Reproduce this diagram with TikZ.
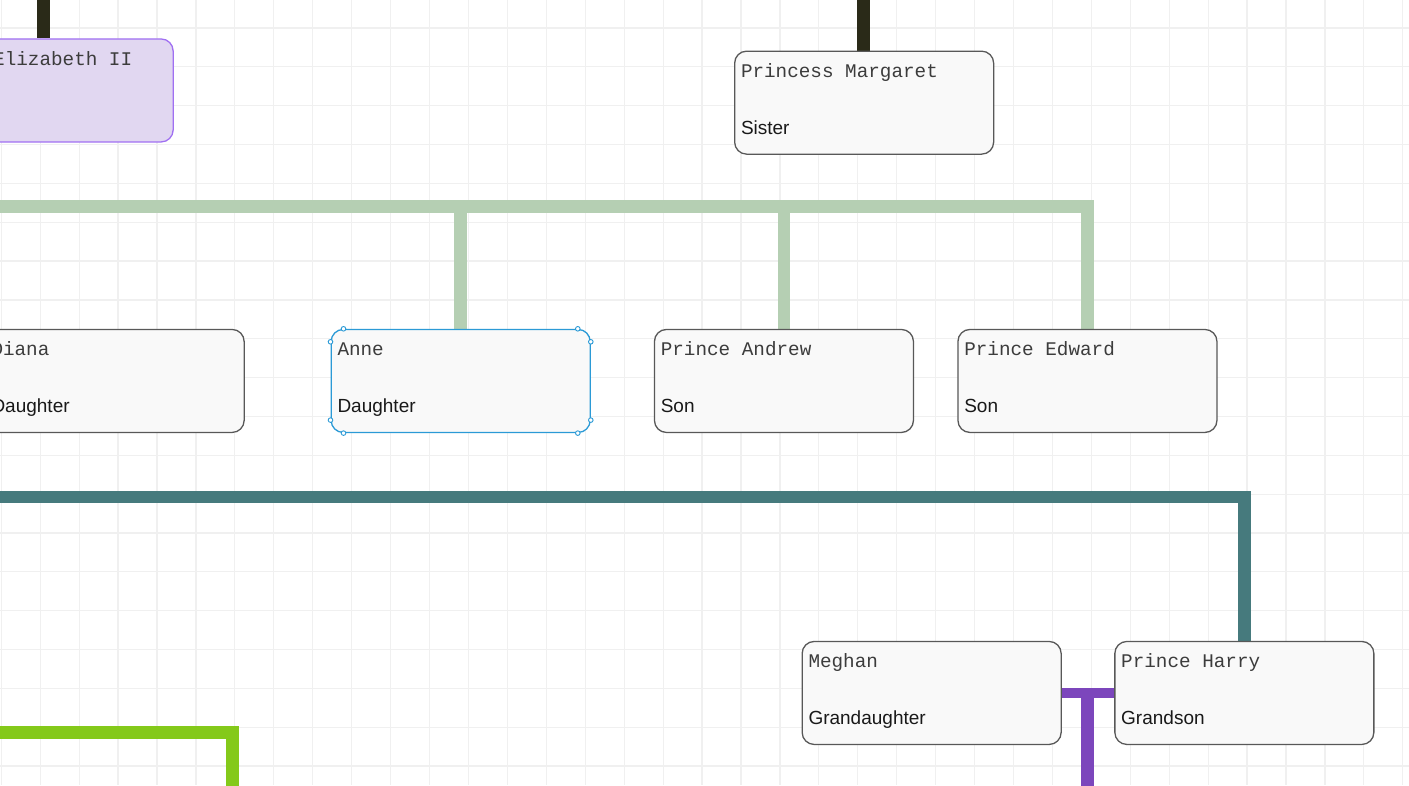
\documentclass[tikz,border=0pt]{standalone}
\usepackage{fontspec}
\usetikzlibrary{calc}
\setmainfont{Liberation Sans}
\newfontfamily\monofont{Liberation Mono}
\definecolor{gridc}{HTML}{F0F0F0}
\definecolor{boxfill}{HTML}{F9F9F9}
\definecolor{boxdraw}{HTML}{585858}
\definecolor{lavfill}{HTML}{E1D7F1}
\definecolor{lavdraw}{HTML}{A070F2}
\definecolor{darkline}{HTML}{2A2A18}
\definecolor{paleg}{HTML}{B5CFB3}
\definecolor{tealc}{HTML}{467A7D}
\definecolor{limec}{HTML}{84C91A}
\definecolor{purplec}{HTML}{7C46BC}
\definecolor{selc}{HTML}{2B9AD6}
\definecolor{monotext}{HTML}{3C3C3C}
\pgfdeclarelayer{gridlayer}
\pgfdeclarelayer{linelayer}
\pgfsetlayers{gridlayer,linelayer,main}
\tikzset{
  personbox/.style={draw=boxdraw, fill=boxfill, line width=1.3pt, rounded corners=12pt,
    minimum width=259pt, minimum height=103pt, anchor=north west, inner sep=0pt},
  titletext/.style={anchor=base west, inner sep=0pt, font=\monofont\fontsize{19.3}{22}\selectfont, text=monotext},
  roletext/.style={anchor=base west, inner sep=0pt, font=\fontsize{19}{22}\selectfont, text=black!90},
  conn/.style={line width=12.6pt, line join=miter},
  handle/.style={circle, draw=selc, fill=white, line width=0.9pt, inner sep=0pt, minimum size=4.6pt}
}
\begin{document}
\begin{tikzpicture}[x=1pt,y=-1pt]
\useasboundingbox (0,0) rectangle (1409,785);
\begin{pgfonlayer}{gridlayer}
\fill[white] (0,0) rectangle (1409,785);
\foreach \i in {0,...,37} {
  \draw[gridc, line width=1.2pt] ({1.3+\i*38.93},0) -- ({1.3+\i*38.93},785);
}
\foreach \j in {0,...,20} {
  \draw[gridc, line width=1.2pt] (0,{-10.8+\j*38.84}) -- (1409,{-10.8+\j*38.84});
}
\end{pgfonlayer}

% boxes
\node[personbox, draw=lavdraw, fill=lavfill, minimum width=188pt] (eliz) at (-15.5,38.3) {};
\node[personbox] (margaret) at (734,50.5) {};
\node[personbox] (diana) at (-15.5,328.8) {};
\node[personbox, draw=selc] (anne) at (330.5,328.8) {};
\node[personbox] (andrew) at (653.8,328.8) {};
\node[personbox] (edward) at (957.3,328.8) {};
\node[personbox] (meghan) at (801.5,640.8) {};
\node[personbox] (harry) at (1114.2,640.8) {};

% free ends of connectors
\coordinate (etop) at (43.7,-10);
\coordinate (mtop) at (863.7,-10);
\coordinate (gstart) at (-30,206.7);
\coordinate (tstart) at (-30,497);
\coordinate (lstart) at (-30,732.3);
\coordinate (lend) at (232.2,800);
\coordinate (pend) at (1087.4,800);

\begin{pgfonlayer}{linelayer}
\draw[conn, darkline] (etop) -- (etop |- eliz.north);
\draw[conn, darkline] (mtop) -- (mtop |- margaret.north);
\draw[conn, paleg] (gstart) -| (edward.north);
\draw[conn, paleg] (anne.north) -- (anne.north |- gstart);
\draw[conn, paleg] (andrew.north) -- (andrew.north |- gstart);
\draw[conn, tealc] (tstart) -| (harry.north);
\draw[conn, limec] (lstart) -| (lend);
\draw[purplec, line width=10pt] (meghan.east) -- (harry.west);
\draw[purplec, line width=13.3pt] (pend |- meghan.east) -- (pend);
\end{pgfonlayer}

% texts
\node[titletext] (elizt) at ([shift={(8.5,26.7)}]eliz.north west) {Elizabeth II};
\node[titletext] (margt) at ([shift={(6.8,26.7)}]margaret.north west) {Princess Margaret};
\node[roletext] (margr) at ([shift={(6.8,83.7)}]margaret.north west) {Sister};
\node[titletext] (dianat) at ([shift={(6.8,26.7)}]diana.north west) {Diana};
\node[roletext] (dianar) at ([shift={(6.8,83.7)}]diana.north west) {Daughter};
\node[titletext] (annet) at ([shift={(6.8,26.7)}]anne.north west) {Anne};
\node[roletext] (anner) at ([shift={(6.8,83.7)}]anne.north west) {Daughter};
\node[titletext] (andrewt) at ([shift={(6.8,26.7)}]andrew.north west) {Prince Andrew};
\node[roletext] (andrewr) at ([shift={(6.8,83.7)}]andrew.north west) {Son};
\node[titletext] (edwardt) at ([shift={(6.8,26.7)}]edward.north west) {Prince Edward};
\node[roletext] (edwardr) at ([shift={(6.8,83.7)}]edward.north west) {Son};
\node[titletext] (meghant) at ([shift={(6.8,26.7)}]meghan.north west) {Meghan};
\node[roletext] (meghanr) at ([shift={(6.8,83.7)}]meghan.north west) {Grandaughter};
\node[titletext] (harryt) at ([shift={(6.8,26.7)}]harry.north west) {Prince Harry};
\node[roletext] (harryr) at ([shift={(6.8,83.7)}]harry.north west) {Grandson};

% selection handles on Anne
\node[handle] (h1) at ([shift={(13,0)}]anne.north west) {};
\node[handle] (h2) at ([shift={(-13,0)}]anne.north east) {};
\node[handle] (h3) at ([shift={(0,13)}]anne.north west) {};
\node[handle] (h4) at ([shift={(0,13)}]anne.north east) {};
\node[handle] (h5) at ([shift={(0,-13)}]anne.south west) {};
\node[handle] (h6) at ([shift={(0,-13)}]anne.south east) {};
\node[handle] (h7) at ([shift={(13,0)}]anne.south west) {};
\node[handle] (h8) at ([shift={(-13,0)}]anne.south east) {};
\end{tikzpicture}
\end{document}
